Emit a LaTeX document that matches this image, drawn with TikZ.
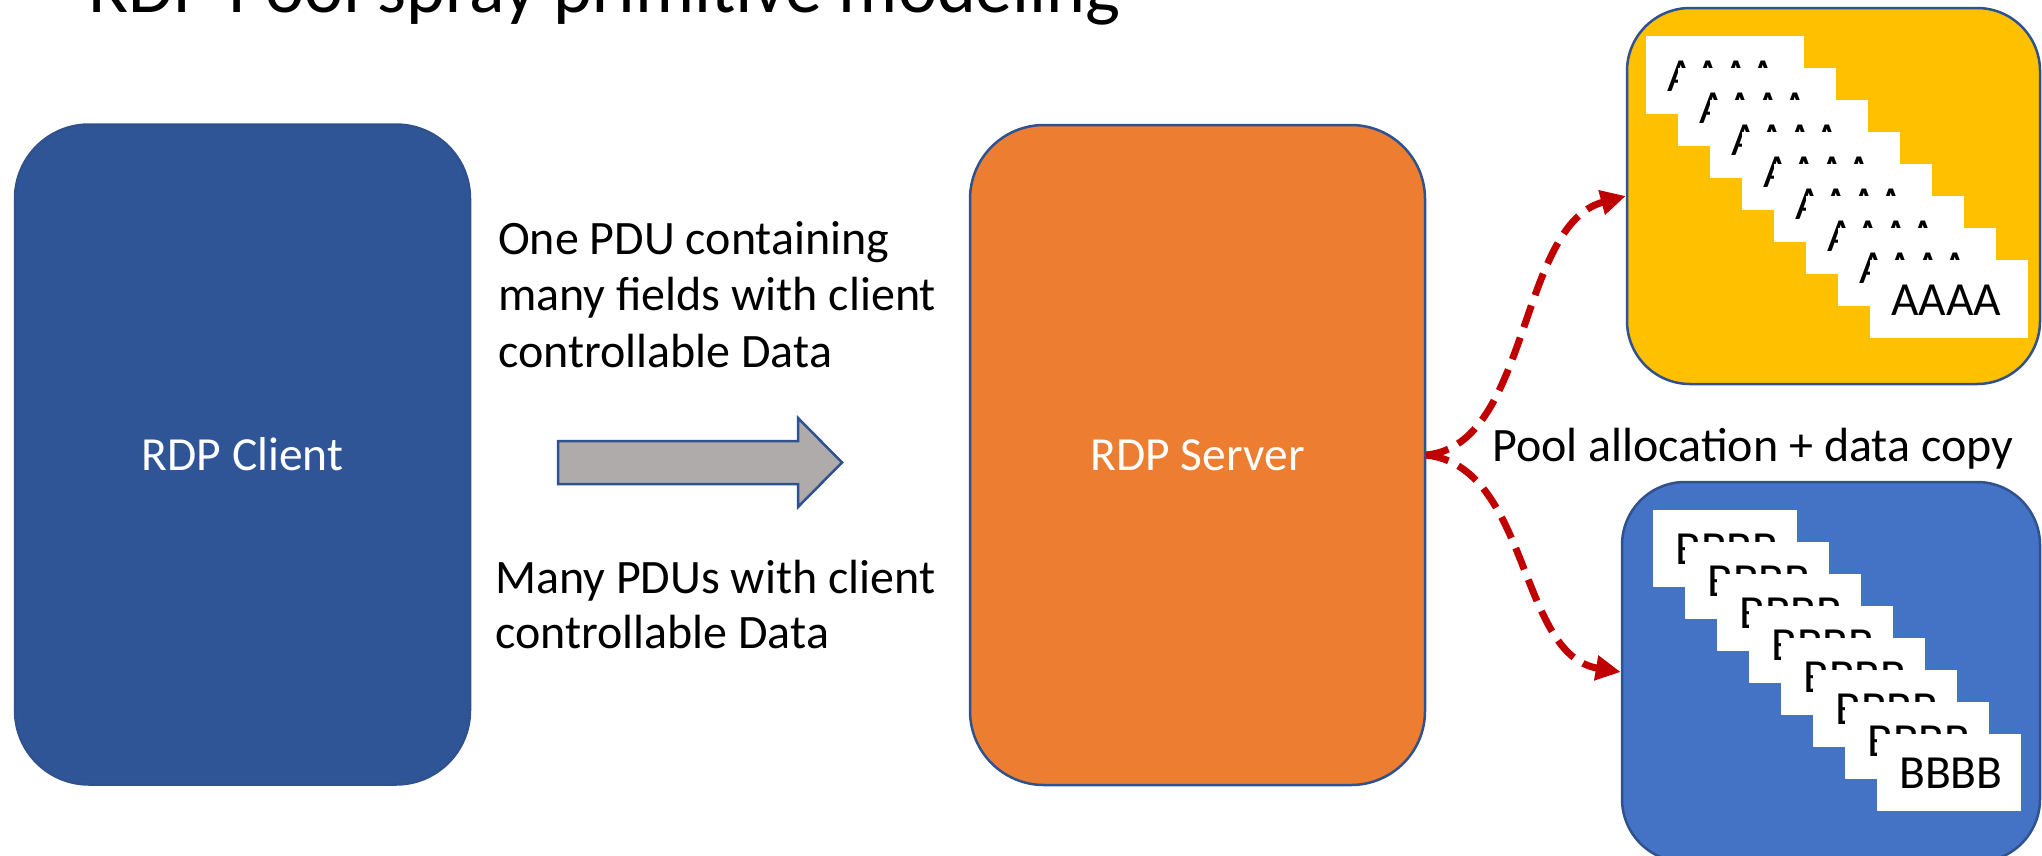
\documentclass[tikz,border=0pt]{standalone}
\usepackage{fontspec}
\setmainfont{Carlito}
\usetikzlibrary{arrows.meta}

\definecolor{clientblue}{HTML}{2F5597}
\definecolor{edgeblue}{HTML}{2F528F}
\definecolor{serverorange}{HTML}{ED7D31}
\definecolor{poolyellow}{HTML}{FFC000}
\definecolor{poolblue}{HTML}{4472C4}
\definecolor{arrowgray}{HTML}{AFABAB}
\definecolor{flowred}{HTML}{C00000}

\tikzset{
  bigbox/.style={draw=edgeblue, line width=2.5pt, rounded corners=74pt,
    minimum width=455pt, minimum height=660pt, inner sep=0pt,
    text=white, font=\fontsize{47.5}{52}\selectfont},
  poolbox/.style={draw=edgeblue, line width=2.5pt, rounded corners=63pt, inner sep=0pt},
  chunk/.style={fill=white, draw=none, anchor=north west, inner sep=0pt},
  chunktext/.style={anchor=base west, inner sep=0pt, font=\fontsize{47.5}{52}\selectfont},
  bodytext/.style={anchor=base west, inner sep=0pt, align=left},
  spray/.style={draw=flowred, line width=7pt, dash pattern=on 23pt off 11pt,
    -{Triangle[length=25pt,width=24pt]}},
}

\begin{document}
\begin{tikzpicture}[x=1pt, y=-1pt]
\useasboundingbox (0,0) rectangle (2042,855);
\clip (0,0) rectangle (2042,855);

% title, running off the top edge
\node[anchor=base west, inner sep=0pt, font=\fontsize{74}{84}\selectfont]
  (title) at (88,12) {RDP Pool spray primitive modeling};

% client and server
\node[bigbox, fill=clientblue] (client) at (242.5,454.5) {RDP Client};
\node[bigbox, fill=serverorange] (server) at (1197.5,455) {RDP Server};

% descriptions of the two ways to send data (anchored at the last baseline)
\node[bodytext, font=\fontsize{48}{56.5}\selectfont] (onepdu) at (498,367)
  {One PDU containing\\many fields with client\\controllable Data};
\node[bodytext, font=\fontsize{48}{55}\selectfont] (manypdu) at (495,648)
  {Many PDUs with client\\controllable Data};

% block arrow from client side to server
\draw[draw=edgeblue, fill=arrowgray, line width=2.5pt, line join=miter]
  (558,441) -- (798,441) -- (798,418) -- (842,462.5) -- (798,507)
  -- (798,484) -- (558,484) -- cycle;

% two pools
\node[poolbox, fill=poolyellow, minimum width=413pt, minimum height=376pt]
  (poolA) at (1833.5,196) {};
\node[poolbox, fill=poolblue, minimum width=418pt, minimum height=380pt]
  (poolB) at (1831,672) {};

% sprayed chunks in the first pool
\foreach \i in {0,...,7} {
  \node[chunk, minimum width=158pt, minimum height=78pt]
    (a\i) at ({1646+32*\i},{36+32*\i}) {};
  \node[chunktext] (at\i) at ({1667+32*\i},{91+32*\i}) {AAAA};
}

% sprayed chunks in the second pool
\foreach \i in {0,...,7} {
  \node[chunk, minimum width=144pt, minimum height=77pt]
    (b\i) at ({1653+32*\i},{510+32*\i}) {};
  \node[chunktext] (bt\i) at ({1675+32*\i},{564+32*\i}) {BBBB};
}

% allocation flows
\draw[spray] (server.east) .. controls (1530,445) and (1518,225) .. (poolA.west);
\draw[spray] (server.east) .. controls (1530,467) and (1518,655) .. (poolB.west);

\node[anchor=base west, inner sep=0pt, font=\fontsize{48}{52}\selectfont]
  (alloc) at (1492,461) {Pool allocation + data copy};
\end{tikzpicture}
\end{document}
